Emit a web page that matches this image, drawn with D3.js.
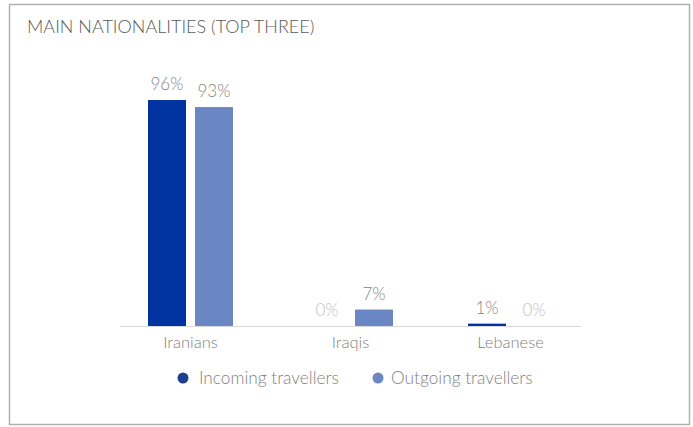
<!DOCTYPE html>
<html>
<head>
<meta charset="utf-8">
<script src="https://cdn.jsdelivr.net/npm/d3@7"></script>
<style>
  body { margin: 0; background: #fff; }
  svg text { font-family: Lato, "Open Sans", sans-serif; font-weight: 300; }
</style>
</head>
<body>
<svg width="693" height="427"></svg>
<script>
const categories = ["Iranians", "Iraqis", "Lebanese"];
const series = ["Incoming travellers", "Outgoing travellers"];
const incoming = [96, 0, 1];
const outgoing = [93, 7, 0];
const title = "MAIN NATIONALITIES (TOP THREE)";

const barColors = ["#0033a0", "#6a87c4"];
const legendColors = ["#1f3f8f", "#6a87c4"];

const svg = d3.select("svg");

// frame
svg.append("rect")
    .attr("x", 9.5).attr("y", 4.5)
    .attr("width", 680).attr("height", 420)
    .attr("fill", "none")
    .attr("stroke", "#b0b0b0")
    .attr("stroke-width", 1.5);

svg.append("text")
    .attr("x", 27).attr("y", 33)
    .attr("font-size", 18)
    .attr("fill", "#595959")
    .text(title);

// scales
const x0 = d3.scaleBand()
    .domain(categories)
    .range([110.5, 590.5]);

const x1 = d3.scaleBand()
    .domain(series)
    .range([0, 85])
    .paddingInner(0.1915);

const y = d3.scaleLinear()
    .domain([0, 100])
    .range([326, 90.6]);

const rows = categories.map((c, i) => ({
    cat: c,
    vals: [incoming[i], outgoing[i]]
}));

const groups = svg.selectAll("g.grp")
    .data(rows)
    .join("g")
    .attr("class", "grp")
    .attr("transform", d => `translate(${x0(d.cat) + x0.bandwidth() / 2 - 42.5},0)`);

groups.selectAll("rect")
    .data(d => d.vals.map((v, j) => ({ s: series[j], v, j })))
    .join("rect")
    .attr("x", d => x1(d.s))
    .attr("width", x1.bandwidth())
    .attr("y", d => y(d.v))
    .attr("height", d => y(0) - y(d.v))
    .attr("fill", d => barColors[d.j]);

groups.selectAll("text")
    .data(d => d.vals.map((v, j) => ({ s: series[j], v, j })))
    .join("text")
    .attr("x", d => x1(d.s) + x1.bandwidth() / 2)
    .attr("y", d => y(d.v) - 10)
    .attr("text-anchor", "middle")
    .attr("font-size", 17)
    .attr("fill", d => d.v === 0 ? "#c0c0c0" : "#858585")
    .text(d => d.v + "%");

// axis
const axis = svg.append("g")
    .attr("transform", `translate(0,${y(0)})`)
    .call(d3.axisBottom(x0).tickSize(0).tickPadding(10));
axis.select(".domain")
    .attr("d", "M120,0.5H581")
    .attr("stroke", "#d9d9d9");
axis.selectAll(".tick text")
    .attr("font-size", 16.5)
    .attr("fill", "#7f7f7f")
    .style("font-family", "Lato, sans-serif")
    .style("font-weight", 300);

// legend
const legendX = [183, 378];
const legend = svg.selectAll("g.leg")
    .data(series)
    .join("g")
    .attr("class", "leg")
    .attr("transform", (d, i) => `translate(${legendX[i]},378)`);
legend.append("circle")
    .attr("r", 5.5)
    .attr("fill", (d, i) => legendColors[i]);
legend.append("text")
    .attr("x", (d, i) => i === 0 ? 16 : 13)
    .attr("y", 5.5)
    .attr("font-size", 17.3)
    .attr("fill", "#7f7f7f")
    .text(d => d);
</script>
</body>
</html>
